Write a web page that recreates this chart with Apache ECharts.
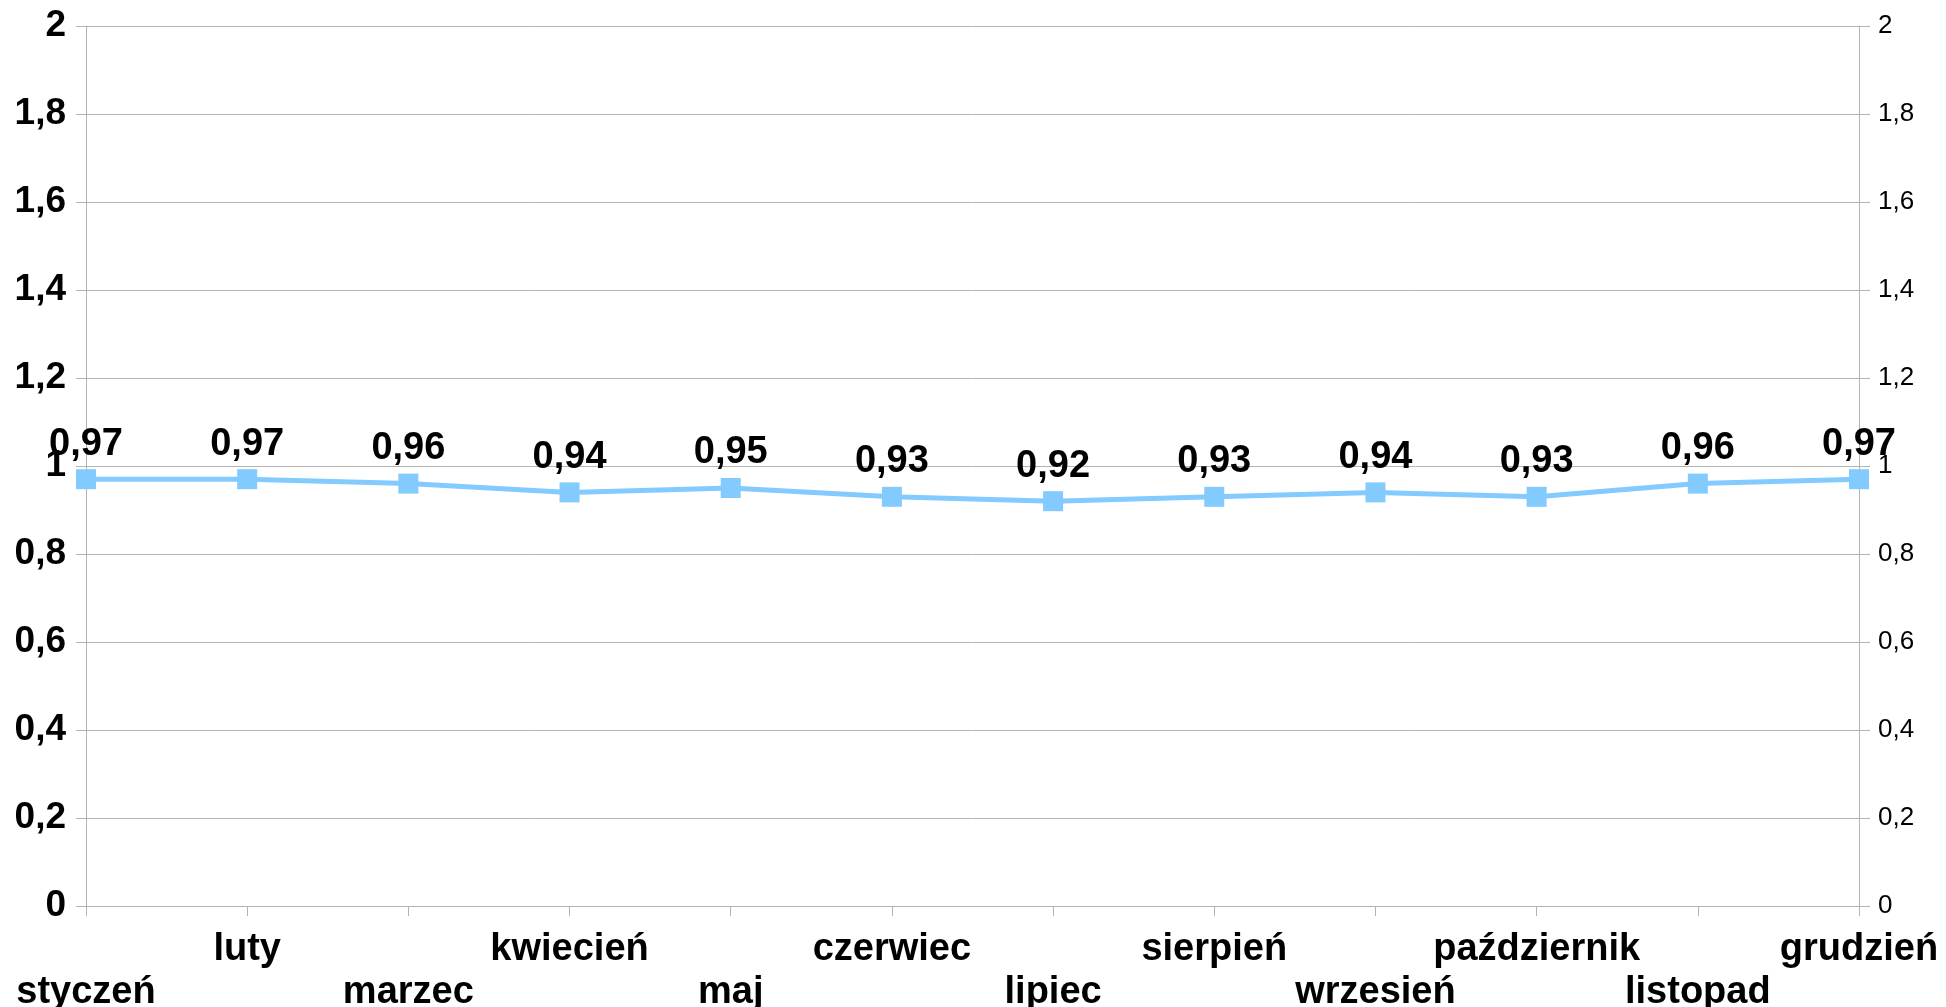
<!DOCTYPE html>
<html>
<head>
<meta charset="utf-8">
<script src="https://cdn.jsdelivr.net/npm/echarts@6/dist/echarts.min.js"></script>
<style>
html,body{margin:0;padding:0;background:#fff;}
#chart{width:1946px;height:1007px;}
</style>
</head>
<body>
<div id="chart"></div>
<script>
const categories = ['styczeń','luty','marzec','kwiecień','maj','czerwiec','lipiec','sierpień','wrzesień','październik','listopad','grudzień'];
const values = [0.97, 0.97, 0.96, 0.94, 0.95, 0.93, 0.92, 0.93, 0.94, 0.93, 0.96, 0.97];
const yMin = 0, yMax = 2, yStep = 0.2;

const FONT = '"Liberation Sans", Arial, sans-serif';
const GRID = '#b3b3b3';
const fmtY = v => String(Number(v.toFixed(1))).replace('.', ',');

const chart = echarts.init(document.getElementById('chart'), null, {renderer: 'canvas'});
chart.setOption({
  backgroundColor: '#ffffff',
  animation: false,
  grid: {left: 86, right: 87, top: 26, bottom: 101, containLabel: false, outerBoundsMode: 'none'},
  xAxis: {
    type: 'category',
    data: categories,
    boundaryGap: false,
    axisLine: {show: true, lineStyle: {color: GRID, width: 1}},
    axisTick: {show: true, length: 10, interval: 0, lineStyle: {color: GRID}},
    splitLine: {show: false},
    axisLabel: {
      interval: 0,
      margin: 22,
      fontFamily: FONT,
      fontSize: 38,
      fontWeight: 'bold',
      color: '#000',
      lineHeight: 43,
      formatter: (v, i) => (i % 2 === 0 ? '\n' + v : v)
    }
  },
  yAxis: [
    {
      type: 'value', min: yMin, max: yMax, interval: yStep, position: 'left',
      axisLine: {show: true, lineStyle: {color: GRID}},
      axisTick: {show: true, length: 10, lineStyle: {color: GRID}},
      splitLine: {show: true, lineStyle: {color: GRID, width: 1}},
      axisLabel: {fontFamily: FONT, fontSize: 37, fontWeight: 'bold', color: '#000', margin: 20, formatter: fmtY}
    },
    {
      type: 'value', min: yMin, max: yMax, interval: yStep, position: 'right',
      axisLine: {show: true, lineStyle: {color: GRID}},
      axisTick: {show: true, length: 11, lineStyle: {color: GRID}},
      splitLine: {show: false},
      axisLabel: {fontFamily: FONT, fontSize: 26, color: '#000', margin: 19, formatter: fmtY}
    }
  ],
  series: [{
    type: 'line',
    yAxisIndex: 0,
    data: values,
    symbol: 'rect',
    symbolSize: 20,
    lineStyle: {color: '#83caff', width: 5},
    itemStyle: {color: '#83caff'},
    label: {
      show: true, position: 'top', distance: 6,
      fontFamily: FONT, fontSize: 38, fontWeight: 'bold', color: '#000',
      formatter: p => p.value.toFixed(2).replace('.', ',')
    }
  }]
});
</script>
</body>
</html>
